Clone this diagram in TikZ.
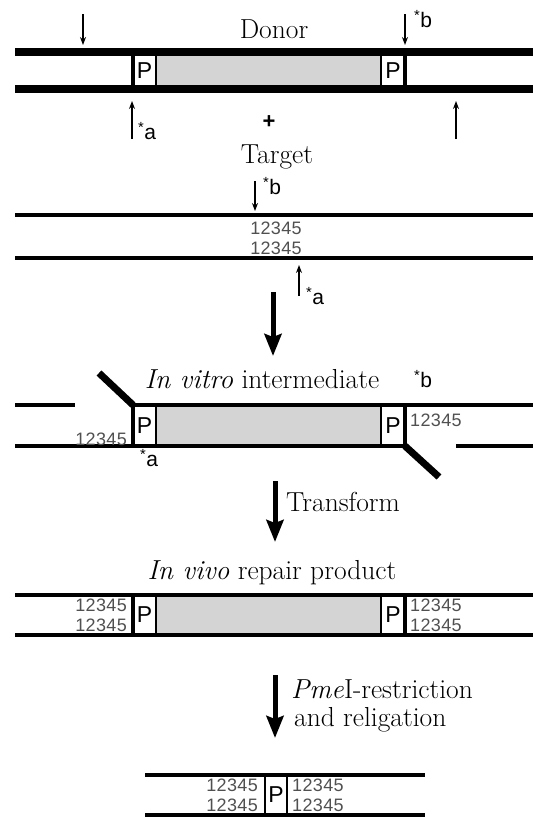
\documentclass[tikz,border=0pt]{standalone}
\usepackage{fontspec}
\usetikzlibrary{arrows.meta}
\newfontfamily\labfont{Liberation Sans}
\newfontfamily\numfont[LetterSpace=2]{Liberation Sans}
\definecolor{insert}{HTML}{D4D4D4}
\definecolor{seqgray}{HTML}{505050}
\tikzset{
  strand/.style={line width=8.5pt},
  thinstrand/.style={line width=3.5pt},
  flap/.style={line width=7pt},
  endcap/.style={line width=3.5pt},
  cutarrow/.style={line width=1.3pt, -{Stealth[length=8pt,width=6pt]}},
  bigarrow/.style={line width=5pt, -{Stealth[length=22pt,width=17pt,inset=3pt]}},
  title/.style={font=\fontsize{27.5}{28}\selectfont, inner sep=0pt},
  seq/.style={font=\numfont\fontsize{18}{20}\selectfont, text=seqgray, inner sep=0pt},
  pbox/.style={draw, line width=1.2pt, fill=white},
  cargo/.style={draw, line width=1.2pt, fill=insert},
  site/.style={font=\labfont\fontsize{21}{23}\selectfont, inner sep=0pt},
  plabel/.style={font=\labfont\fontsize{23}{25}\selectfont, inner sep=0pt},
}
\begin{document}
\begin{tikzpicture}[x=1pt, y=-1pt]
\useasboundingbox (0,0) rectangle (533,817);

% ---------------- Donor ----------------
\node[title] (donorT) at (274,29) {Donor};
\draw[cargo] (156,52) rectangle (381,89);
\draw[pbox] (133,52) rectangle (156,89);
\draw[pbox] (381,52) rectangle (405,89);
\node[plabel] (dP1) at (144.5,71) {P};
\node[plabel] (dP2) at (393,71) {P};
\draw[endcap] (133,52) -- (133,89);
\draw[endcap] (405,52) -- (405,89);
\draw[strand] (15,52) -- (533,52);
\draw[strand] (15,89) -- (533,89);
% cut sites on the donor
\coordinate (dc1s) at (83,14);  \coordinate (dc1e) at (83,45);
\coordinate (dc2s) at (405,14); \coordinate (dc2e) at (405,45);
\coordinate (dc3s) at (132,139); \coordinate (dc3e) at (132,101);
\coordinate (dc4s) at (456,139); \coordinate (dc4e) at (456,101);
\draw[cutarrow] (dc1s) -- (dc1e);
\draw[cutarrow] (dc2s) -- (dc2e);
\draw[cutarrow] (dc3s) -- (dc3e);
\draw[cutarrow] (dc4s) -- (dc4e);
\node[site] (dB) at (423,19) {\textsuperscript{*}b};
\node[site] (dA) at (147,131) {\textsuperscript{*}a};
\node[font=\labfont\bfseries\fontsize{22}{24}\selectfont, inner sep=0pt] (plus) at (269,122) {+};

% ---------------- Target ----------------
\node[title] (targetT) at (277,157) {Target};
\draw[thinstrand] (15,215) -- (533,215);
\draw[thinstrand] (15,258) -- (533,258);
\node[seq] (tS1) at (276,228) {12345};
\node[seq] (tS2) at (276,248) {12345};
\coordinate (tc1s) at (255,181); \coordinate (tc1e) at (255,211);
\coordinate (tc2s) at (299,296); \coordinate (tc2e) at (299,265);
\draw[cutarrow] (tc1s) -- (tc1e);
\draw[cutarrow] (tc2s) -- (tc2e);
\node[site] (tB) at (272,186) {\textsuperscript{*}b};
\node[site] (tA) at (315,296) {\textsuperscript{*}a};

% step 1
\coordinate (s1a) at (273,292); \coordinate (s1b) at (273,356);
\draw[bigarrow] (s1a) -- (s1b);

% ---------------- In vitro intermediate ----------------
\node[title] (vitroT) at (262,379) {\textit{In vitro} intermediate};
\draw[cargo] (156,405) rectangle (381,446);
\draw[pbox] (133,405) rectangle (156,446);
\draw[pbox] (381,405) rectangle (405,446);
\node[plabel] (iP1) at (144.5,426) {P};
\node[plabel] (iP2) at (393,426) {P};
\draw[endcap] (133,405) -- (133,446);
\draw[endcap] (405,405) -- (405,446);
\draw[thinstrand] (15,405) -- (75,405);
\draw[thinstrand] (133,405) -- (533,405);
\draw[thinstrand] (15,446) -- (405,446);
\draw[thinstrand] (456,446) -- (533,446);
\draw[flap] (133,405) -- (99,373);
\draw[flap] (405,446) -- (439,477);
\node[seq, anchor=east] (iS1) at (127,439) {12345};
\node[seq, anchor=west] (iS2) at (410,420) {12345};
\node[site] (iB) at (423,379) {\textsuperscript{*}b};
\node[site] (iA) at (149,458) {\textsuperscript{*}a};

% step 2
\coordinate (s2a) at (275,481); \coordinate (s2b) at (275,542);
\draw[bigarrow] (s2a) -- (s2b);
\node[title, anchor=west] (transT) at (286,502) {Transform};

% ---------------- In vivo repair product ----------------
\node[title] (vivoT) at (272,573) {\textit{In vivo} repair product};
\draw[cargo] (156,595) rectangle (381,635);
\draw[pbox] (133,595) rectangle (156,635);
\draw[pbox] (381,595) rectangle (405,635);
\node[plabel] (vP1) at (144.5,615) {P};
\node[plabel] (vP2) at (393,615) {P};
\draw[endcap] (133,595) -- (133,635);
\draw[endcap] (405,595) -- (405,635);
\draw[line width=4pt] (15,595) -- (533,595);
\draw[thinstrand] (15,635) -- (533,635);
\node[seq, anchor=east] (vS1) at (127,605) {12345};
\node[seq, anchor=east] (vS2) at (127,625) {12345};
\node[seq, anchor=west] (vS3) at (410,605) {12345};
\node[seq, anchor=west] (vS4) at (410,625) {12345};

% step 3
\coordinate (s3a) at (275,675); \coordinate (s3b) at (275,738);
\draw[bigarrow] (s3a) -- (s3b);
\node[title, anchor=west, align=left] (pmeT) at (291,706)
  {\textit{Pme}I-restriction\\\hspace*{3pt}and religation};

% ---------------- Final product ----------------
\draw[pbox, line width=2pt] (265,775) rectangle (287,815);
\node[plabel] (fP) at (276,795) {P};
\draw[line width=4pt] (145,775) -- (425,775);
\draw[line width=4pt] (145,815) -- (425,815);
\node[seq, anchor=east] (fS1) at (258,785) {12345};
\node[seq, anchor=east] (fS2) at (258,805) {12345};
\node[seq, anchor=west] (fS3) at (292,785) {12345};
\node[seq, anchor=west] (fS4) at (292,805) {12345};
\end{tikzpicture}
\end{document}
